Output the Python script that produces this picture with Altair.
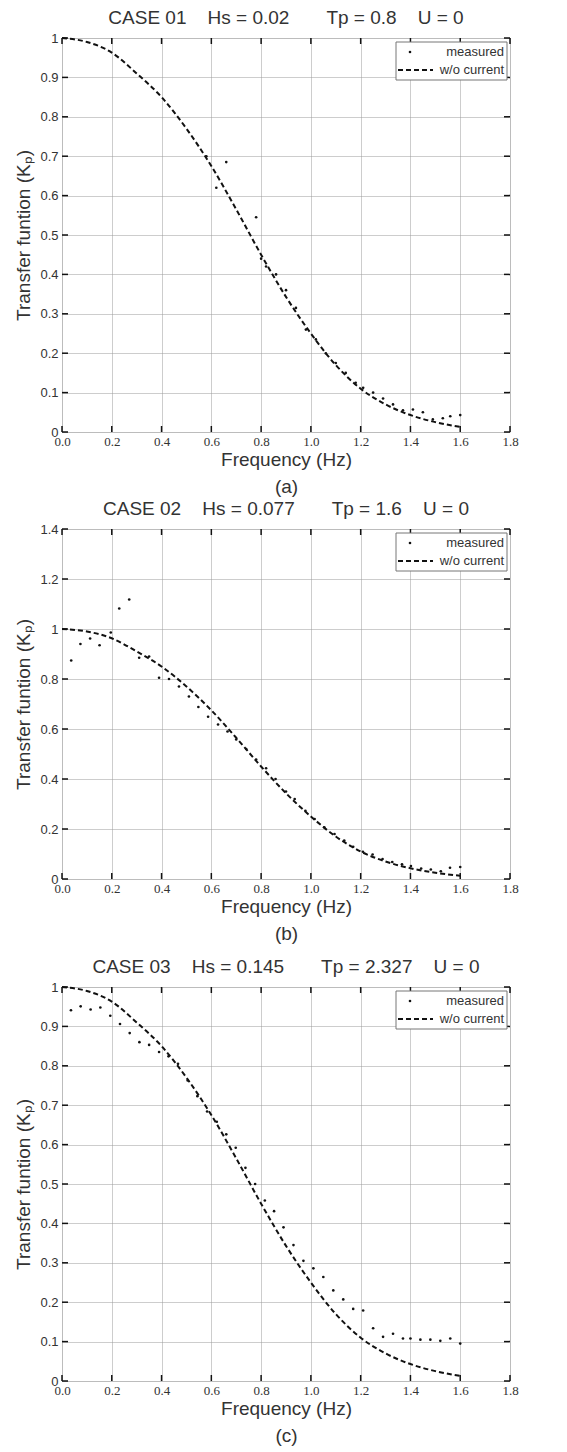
import altair as alt
import pandas as pd

NB = "\u00a0"

# ---- data ----
curve_f = [0.0, 0.1, 0.2, 0.3, 0.4, 0.5, 0.6, 0.7, 0.8, 0.9, 1.0, 1.1, 1.2, 1.3, 1.4, 1.5, 1.6]
curve_v = [1.0, 0.99, 0.963, 0.91, 0.85, 0.77, 0.675, 0.565, 0.45, 0.343, 0.25, 0.17, 0.11, 0.07, 0.043, 0.025, 0.013]

a_f = [0.58, 0.62, 0.66, 0.78, 0.80, 0.82, 0.86, 0.90, 0.94, 0.98, 1.02, 1.06, 1.10,
       1.14, 1.18, 1.21, 1.25, 1.29, 1.33, 1.37, 1.41, 1.45, 1.49, 1.53, 1.56, 1.60]
a_v = [0.70, 0.62, 0.685, 0.545, 0.44, 0.42, 0.40, 0.36, 0.315, 0.26, 0.235, 0.20, 0.175,
       0.15, 0.125, 0.112, 0.10, 0.085, 0.07, 0.055, 0.057, 0.05, 0.032, 0.035, 0.04, 0.043]

b_f = [0.037, 0.074, 0.113, 0.151, 0.196, 0.23, 0.27, 0.31, 0.35, 0.39, 0.43, 0.47, 0.51,
       0.548, 0.587, 0.627, 0.665, 0.70, 0.74, 0.78, 0.82, 0.858, 0.90, 0.935, 0.978, 1.015,
       1.054, 1.095, 1.134, 1.17, 1.209, 1.248, 1.288, 1.327, 1.366, 1.402, 1.443, 1.482,
       1.522, 1.559, 1.60]
b_v = [0.874, 0.94, 0.962, 0.935, 0.986, 1.082, 1.118, 0.885, 0.89, 0.805, 0.80, 0.77, 0.73,
       0.688, 0.649, 0.618, 0.59, 0.558, 0.52, 0.478, 0.443, 0.40, 0.35, 0.32, 0.273, 0.24,
       0.207, 0.18, 0.154, 0.129, 0.109, 0.098, 0.08, 0.068, 0.059, 0.052, 0.042, 0.038,
       0.031, 0.045, 0.048]

c_f = [0.036, 0.075, 0.115, 0.154, 0.194, 0.233, 0.272, 0.311, 0.35, 0.39, 0.428, 0.466,
       0.505, 0.544, 0.583, 0.622, 0.66, 0.698, 0.737, 0.776, 0.815, 0.852, 0.89, 0.93, 0.97,
       1.01, 1.05, 1.09, 1.13, 1.17, 1.21, 1.25, 1.29, 1.33, 1.37, 1.40, 1.44, 1.48, 1.52,
       1.56, 1.60]
c_v = [0.941, 0.951, 0.943, 0.948, 0.927, 0.906, 0.883, 0.86, 0.853, 0.835, 0.824, 0.805,
       0.763, 0.723, 0.684, 0.658, 0.626, 0.592, 0.541, 0.50, 0.458, 0.431, 0.39, 0.345, 0.305,
       0.286, 0.264, 0.23, 0.207, 0.183, 0.179, 0.134, 0.112, 0.12, 0.108, 0.108, 0.105, 0.105,
       0.102, 0.108, 0.095]

x_ticks = [0.0, 0.2, 0.4, 0.6, 0.8, 1.0, 1.2, 1.4, 1.6, 1.8]
y_ticks_a = [0.0, 0.1, 0.2, 0.3, 0.4, 0.5, 0.6, 0.7, 0.8, 0.9, 1.0]
y_ticks_b = [0.0, 0.2, 0.4, 0.6, 0.8, 1.0, 1.2, 1.4]

titles = [
    f"CASE 01{NB*4}Hs = 0.02{NB*7}Tp = 0.8{NB*4}U = 0",
    f"CASE 02{NB*4}Hs = 0.077{NB*7}Tp = 1.6{NB*4}U = 0",
    f"CASE 03{NB*4}Hs = 0.145{NB*7}Tp = 2.327{NB*4}U = 0",
]
captions = ["(a)", "(b)", "(c)"]
legend_labels = ["measured", "w/o current"]

W = 448
TXT = "#333333"


def panel(title, pf, pv, ymax, yticks, H, caption):
    xs = alt.Scale(domain=[0, 1.8], nice=False)
    ys = alt.Scale(domain=[0, ymax], nice=False)
    xaxis = alt.Axis(values=x_ticks, format=".1f", title=["Frequency (Hz)", caption],
                     titleLineHeight=27, titlePadding=2, labelPadding=3, tickSize=0,
                     labelFont="Liberation Serif", labelFontSize=13, labelColor=TXT,
                     titleFont="Liberation Sans", titleFontSize=19, titleFontWeight="normal",
                     titleColor=TXT, domain=False, grid=True, gridDash=[1, 1],
                     gridColor="#9a9a9a", gridWidth=1, labelFlush=False)
    yaxis = alt.Axis(values=yticks, labelExpr="replace(format(datum.value, '.1f'), '.0', '')",
                     title="Transfer funtion (Kₚ)", titlePadding=6, labelPadding=4, tickSize=0,
                     labelFont="Liberation Sans", labelFontSize=13, labelColor=TXT,
                     titleFont="Liberation Sans", titleFontSize=19, titleFontWeight="normal",
                     titleColor=TXT, domain=False, grid=True, gridDash=[1, 1],
                     gridColor="#9a9a9a", gridWidth=1, labelFlush=False)

    curve_df = pd.DataFrame({"f": curve_f, "v": curve_v})
    pts_df = pd.DataFrame({"f": pf, "v": pv})
    xt_df = pd.DataFrame({"f": x_ticks})
    yt_df = pd.DataFrame({"v": yticks})
    one = pd.DataFrame({"k": [0]})

    line = alt.Chart(curve_df).mark_line(color="#111111", strokeWidth=2, strokeDash=[5, 3],
                                         interpolate="monotone").encode(
        x=alt.X("f:Q", scale=xs, axis=xaxis), y=alt.Y("v:Q", scale=ys, axis=yaxis))
    pts = alt.Chart(pts_df).mark_circle(color="#111111", size=7, opacity=1).encode(
        x=alt.X("f:Q", scale=xs, axis=xaxis), y=alt.Y("v:Q", scale=ys, axis=yaxis))

    tk = dict(color="#111111", strokeWidth=1.5)
    tb = alt.Chart(xt_df).mark_rule(**tk).encode(
        x=alt.X("f:Q", scale=xs, axis=xaxis), y=alt.value(H), y2=alt.value(H - 6))
    tt = alt.Chart(xt_df).mark_rule(**tk).encode(
        x=alt.X("f:Q", scale=xs, axis=xaxis), y=alt.value(0), y2=alt.value(6))
    tl = alt.Chart(yt_df).mark_rule(**tk).encode(
        y=alt.Y("v:Q", scale=ys, axis=yaxis), x=alt.value(0), x2=alt.value(6))
    tr = alt.Chart(yt_df).mark_rule(**tk).encode(
        y=alt.Y("v:Q", scale=ys, axis=yaxis), x=alt.value(W - 6), x2=alt.value(W))

    base = alt.Chart(one)
    box = base.mark_rect(fill="white", stroke="#777777", strokeWidth=1).encode(
        x=alt.value(W - 114), x2=alt.value(W - 3), y=alt.value(4), y2=alt.value(42))
    dot = base.mark_circle(color="#111111", size=7, opacity=1).encode(
        x=alt.value(W - 100), y=alt.value(14))
    dash = base.mark_rule(color="#111111", strokeWidth=2, strokeDash=[5, 3]).encode(
        x=alt.value(W - 112), x2=alt.value(W - 77), y=alt.value(32))
    t1 = base.mark_text(align="right", baseline="middle", fontSize=13, font="Liberation Sans",
                        color=TXT, text=legend_labels[0]).encode(
        x=alt.value(W - 6), y=alt.value(14))
    t2 = base.mark_text(align="right", baseline="middle", fontSize=13, font="Liberation Sans",
                        color=TXT, text=legend_labels[1]).encode(
        x=alt.value(W - 6), y=alt.value(32))

    return alt.layer(line, pts, tb, tt, tl, tr, box, dash, dot, t1, t2).properties(
        width=W, height=H,
        title=alt.TitleParams(title, fontSize=19, font="Liberation Sans", fontWeight="normal",
                              color=TXT, offset=4, anchor="middle"))


pa = panel(titles[0], a_f, a_v, 1.0, y_ticks_a, 394, captions[0])
pb = panel(titles[1], b_f, b_v, 1.4, y_ticks_b, 350, captions[1])
pc = panel(titles[2], c_f, c_v, 1.0, y_ticks_a, 394, captions[2])

top = alt.vconcat(pa, pb, spacing=2)
chart = alt.vconcat(top, pc, spacing=13).properties(
    padding={"left": 6, "top": 0, "right": 0, "bottom": 0}).configure_view(
    stroke="#111111", strokeWidth=2).configure(background="white")

chart.save("out.html", embed_options={"renderer": "svg", "actions": False})
